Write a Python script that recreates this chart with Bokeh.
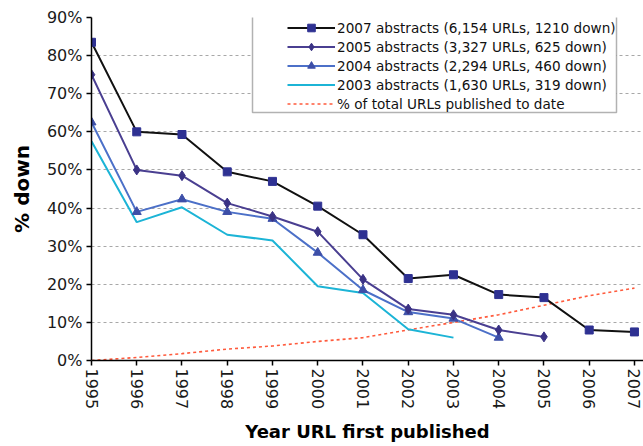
import math
from bokeh.plotting import figure
from bokeh.models import Legend, LegendItem, FixedTicker, CustomJSTickFormatter, BoxAnnotation
from bokeh.embed import file_html
from bokeh.resources import INLINE

years = [1995, 1996, 1997, 1998, 1999, 2000, 2001, 2002, 2003, 2004, 2005, 2006, 2007]
down_2007 = [83.5, 60.0, 59.3, 49.5, 47.0, 40.5, 33.0, 21.5, 22.5, 17.3, 16.5, 8.0, 7.5]
down_2005 = [75.0, 50.0, 48.5, 41.3, 37.8, 33.8, 21.3, 13.5, 12.0, 8.0, 6.2]
down_2004 = [62.5, 39.0, 42.3, 39.0, 37.2, 28.3, 18.5, 12.7, 11.0, 6.0]
down_2003 = [57.5, 36.3, 40.2, 33.0, 31.5, 19.5, 17.7, 8.2, 6.0]
pct_total = [0.0, 0.8, 1.8, 3.0, 3.8, 5.0, 6.0, 8.0, 10.0, 12.0, 14.5, 17.0, 19.0]
y_ticks = [0, 10, 20, 30, 40, 50, 60, 70, 80, 90]

labels = ["2007 abstracts (6,154 URLs, 1210 down)",
          "2005 abstracts (3,327 URLs, 625 down)",
          "2004 abstracts (2,294 URLs, 460 down)",
          "2003 abstracts (1,630 URLs, 319 down)",
          "% of total URLs published to date"]

FONT = "DejaVu Sans"

p = figure(width=643, height=446, output_backend="svg", toolbar_location=None,
           x_range=(1995, 2007.2), y_range=(0, 90),
           min_border_left=91, min_border_right=0, min_border_top=17, min_border_bottom=86)
p.outline_line_color = None
p.background_fill_color = "white"

# grid
p.xgrid.grid_line_color = None
p.ygrid.grid_line_color = "#a8a8a8"
p.ygrid.grid_line_dash = "3 3"
p.ygrid.grid_line_width = 1

# axes
p.yaxis.ticker = FixedTicker(ticks=y_ticks)
p.yaxis.formatter = CustomJSTickFormatter(code="return tick.toFixed(0) + '%';")
p.xaxis.ticker = FixedTicker(ticks=years)
p.xaxis.major_label_orientation = -math.pi / 2
for ax in (p.xaxis, p.yaxis):
    ax.axis_line_color = "black"
    ax.axis_line_width = 1.5
    ax.major_tick_line_color = "black"
    ax.major_tick_line_width = 1.5
    ax.major_tick_out = 5
    ax.major_tick_in = 0
    ax.minor_tick_line_color = None
    ax.major_label_text_font = FONT
    ax.major_label_text_font_size = "16px"
    ax.major_label_text_color = "#1a1a1a"
    ax.axis_label_text_font = FONT
    ax.axis_label_text_font_style = "bold"
    ax.axis_label_text_color = "black"
p.yaxis.major_label_standoff = 4
p.xaxis.major_label_standoff = 3
p.yaxis.axis_label = "% down"
p.yaxis.axis_label_text_font_size = "20px"
p.yaxis.axis_label_standoff = 10
p.xaxis.axis_label = "Year URL first published"
p.xaxis.axis_label_text_font_size = "18px"
p.xaxis.axis_label_standoff = 9

navy = "#2E3192"

r_pct = p.line(years, pct_total, line_color="#FF5A3C", line_width=1.6, line_dash="3 3")

r03 = p.line(years[:len(down_2003)], down_2003, line_color="#1CB4D6", line_width=2)

r04l = p.line(years[:len(down_2004)], down_2004, line_color="#4C70C8", line_width=2)
r04m = p.scatter(years[:len(down_2004)], down_2004, marker="triangle", size=9,
                 fill_color="#3D4FA8", line_color="#3D4FA8")

r05l = p.line(years[:len(down_2005)], down_2005, line_color="#4A3F91", line_width=2)
r05m = p.scatter(years[:len(down_2005)], down_2005, marker="diamond", size=10,
                 fill_color="#3A3285", line_color="#3A3285")

r07l = p.line(years, down_2007, line_color="#111111", line_width=2)
r07m = p.scatter(years, down_2007, marker="square", size=8,
                 fill_color=navy, line_color=navy)

# legend frame (Excel-style box with wide left padding)
box = BoxAnnotation(left=252, right=616, top=15, bottom=112,
                    left_units="canvas", right_units="canvas",
                    top_units="canvas", bottom_units="canvas",
                    fill_color="white", fill_alpha=1.0,
                    line_color="black", line_width=1.5, level="annotation")
p.add_layout(box)

legend = Legend(items=[
    LegendItem(label=labels[0], renderers=[r07l, r07m]),
    LegendItem(label=labels[1], renderers=[r05l, r05m]),
    LegendItem(label=labels[2], renderers=[r04l, r04m]),
    LegendItem(label=labels[3], renderers=[r03]),
    LegendItem(label=labels[4], renderers=[r_pct]),
], location=(196, 247))
legend.label_text_font = FONT
legend.label_text_font_size = "13.6px"
legend.label_text_color = "#111111"
legend.label_height = 19
legend.label_standoff = 2
legend.glyph_width = 48
legend.glyph_height = 19
legend.spacing = 0
legend.padding = 0
legend.margin = 0
legend.border_line_color = None
legend.background_fill_alpha = 0
p.add_layout(legend, "center")

open("out.html", "w").write(file_html(p, INLINE))
